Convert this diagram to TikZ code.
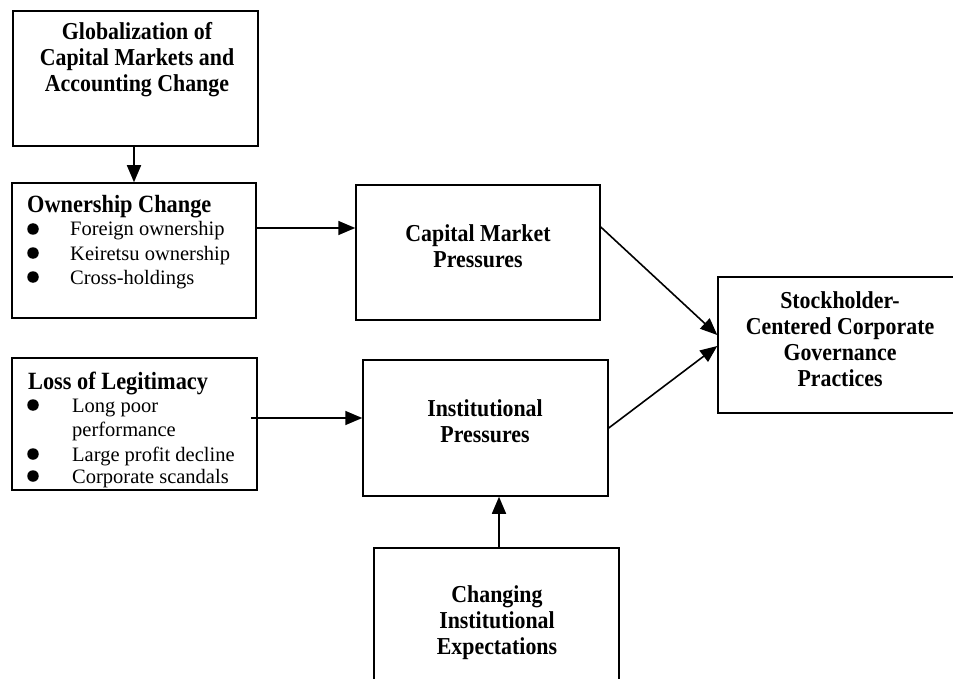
\documentclass[tikz,border=0pt]{standalone}
\usepackage{fontspec}
\setmainfont{Liberation Serif}[BoldFeatures={FakeStretch=0.9}]
\usetikzlibrary{arrows.meta}
\begin{document}
\begin{tikzpicture}[x=1pt,y=-1pt,
  box/.style={draw=black,line width=1.5pt,inner sep=0pt,rectangle},
  btxt/.style={font=\fontsize{24.3}{26}\selectfont\bfseries,align=center,inner sep=0pt},
  ttl/.style={font=\fontsize{24.8}{25}\selectfont\bfseries,anchor=base west,inner sep=0pt},
  itm/.style={font=\fontsize{20.5}{25}\selectfont,anchor=base west,inner sep=0pt},
  arr/.style={line width=1.6pt,-{Triangle[length=17pt,width=14pt]}},
  dot/.style={circle,fill=black,inner sep=0pt,minimum size=11.5pt}]
\useasboundingbox (0,0) rectangle (953,679);
% boxes
\node[box,minimum width=245pt,minimum height=135pt] (A) at (135.5,78.5) {};
\node[box,minimum width=244pt,minimum height=135pt] (B) at (134,250.5) {};
\node[box,minimum width=244pt,minimum height=135pt] (C) at (478,252.5) {};
\node[box,minimum width=245pt,minimum height=132pt] (D) at (134.5,424) {};
\node[box,minimum width=245pt,minimum height=136pt] (E) at (485.5,428) {};
\node[box,minimum width=244pt,minimum height=136pt] (F) at (840,345) {};
\node[box,minimum width=245pt,minimum height=136pt] (G) at (496.5,616) {};
% box texts
\node[btxt] (At) at (137,60) {Globalization of\\Capital Markets and\\Accounting Change};
\node[btxt] (Ct) at (478,246) {Capital Market\\Pressures};
\node[btxt] (Et) at (485,421) {Institutional\\Pressures};
\node[btxt] (Ft) at (840,339) {Stockholder-\\Centered Corporate\\Governance\\Practices};
\node[btxt] (Gt) at (497,623) {Changing\\Institutional\\Expectations};
% ownership list
\node[ttl] (Bt) at (27,213) {Ownership Change};
\node[dot] (b1) at (33,229) {};
\node[itm] (b1t) at (70,236) {Foreign ownership};
\node[dot] (b2) at (33,253) {};
\node[itm] (b2t) at (70,260) {Keiretsu ownership};
\node[dot] (b3) at (33,277) {};
\node[itm] (b3t) at (70,284) {Cross-holdings};
% legitimacy list
\node[ttl] (Dt) at (28,389) {Loss of Legitimacy};
\node[dot] (d1) at (33,405) {};
\node[itm] (d1t) at (72,412) {Long poor};
\node[itm] (d1u) at (72,436) {performance};
\node[dot] (d2) at (33,454) {};
\node[itm] (d2t) at (72,461) {Large profit decline};
\node[dot] (d3) at (33,476) {};
\node[itm] (d3t) at (72,483) {Corporate scandals};
% connectors
\draw[arr] (A.south -| B.north) -- (B.north);
\draw[arr] ([yshift=22.5pt]B.east) coordinate (bc) -- (bc -| C.west);
\draw[arr] ([xshift=-7pt,yshift=6pt]D.east) coordinate (de) -- (de -| E.west);
\draw[arr] ([yshift=25.5pt]C.east) -- ([yshift=10pt]F.west);
\draw[arr] (E.east) -- ([yshift=-1pt]F.west);
\draw[arr] ([xshift=2.5pt]G.north) coordinate (ge) -- (ge |- E.south);
\end{tikzpicture}
\end{document}
